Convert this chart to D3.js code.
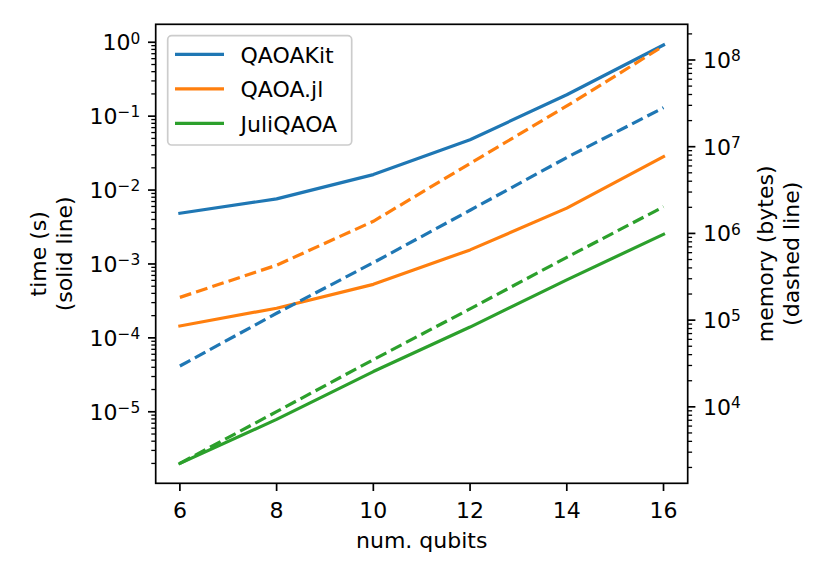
<!DOCTYPE html>
<html>
<head>
<meta charset="utf-8">
<script src="https://cdn.jsdelivr.net/npm/d3@7"></script>
<style>
  body { margin: 0; background: white; }
  text { font-family: "DejaVu Sans", sans-serif; fill: black; }
</style>
</head>
<body>
<div id="chart"></div>
<script>
// num. qubits
const qubits = [6, 8, 10, 12, 14, 16];

const seriesNames = ["QAOAKit", "QAOA.jl", "JuliQAOA"];
const seriesColors = ["#1f77b4", "#ff7f0e", "#2ca02c"];

// time (s), solid lines, left axis
const timeQAOAKit = [4.85e-3, 7.6e-3, 0.0162, 0.048, 0.195, 0.92];
const timeQAOAjl = [1.45e-4, 2.52e-4, 5.3e-4, 1.55e-3, 5.7e-3, 0.0283];
const timeJuliQAOA = [2.0e-6, 7.9e-6, 3.5e-5, 1.4e-4, 6.1e-4, 2.52e-3];

// memory (bytes), dashed lines, right axis
const memQAOAKit = [2.96e4, 1.2e5, 4.6e5, 1.85e6, 7.5e6, 2.82e7];
const memQAOAjl = [1.83e5, 4.3e5, 1.38e6, 6.4e6, 2.95e7, 1.45e8];
const memJuliQAOA = [2.23e3, 8.8e3, 3.5e4, 1.35e5, 5.3e5, 2.03e6];

const xTicks = [6, 8, 10, 12, 14, 16];
const timeTickExps = [-5, -4, -3, -2, -1, 0];
const memTickExps = [4, 5, 6, 7, 8];

function drawChart() {
    const width = 830, height = 581;
    const fontSize = 22;
    const plot = { left: 155.7, right: 687.7, top: 24.3, bottom: 483.3 };
    const majorLen = 7.7, minorLen = 4.4, tickPad = 7.7;

    const svg = d3.select("#chart").append("svg")
        .attr("width", width)
        .attr("height", height);

    const x = d3.scaleLinear().domain([5.5, 16.5]).range([plot.left, plot.right]);
    const yTime = d3.scaleLog().domain([1.077e-6, 1.75]).range([plot.bottom, plot.top]);
    const yMem = d3.scaleLog().domain([1313, 2.58e8]).range([plot.bottom, plot.top]);

    const timeData = [timeQAOAKit, timeQAOAjl, timeJuliQAOA];
    const memData = [memQAOAKit, memQAOAjl, memJuliQAOA];

    const clip = svg.append("clipPath").attr("id", "plot-clip")
        .append("rect")
        .attr("x", plot.left).attr("y", plot.top)
        .attr("width", plot.right - plot.left)
        .attr("height", plot.bottom - plot.top);

    const lineTime = d3.line().x((d, i) => x(qubits[i])).y(d => yTime(d));
    const lineMem = d3.line().x((d, i) => x(qubits[i])).y(d => yMem(d));

    const lines = svg.append("g").attr("clip-path", "url(#plot-clip)");

    // solid time lines first, then dashed memory lines per series (matplotlib order)
    timeData.forEach((vals, i) => {
        lines.append("path")
            .attr("d", lineTime(vals))
            .attr("fill", "none")
            .attr("stroke", seriesColors[i])
            .attr("stroke-width", 3.2)
            .attr("stroke-linejoin", "round")
            .attr("stroke-linecap", "square");
    });
    memData.forEach((vals, i) => {
        lines.append("path")
            .attr("d", lineMem(vals))
            .attr("fill", "none")
            .attr("stroke", seriesColors[i])
            .attr("stroke-width", 3.2)
            .attr("stroke-dasharray", "11.9,5.2")
            .attr("stroke-linecap", "butt");
    });

    // frame
    svg.append("rect")
        .attr("x", plot.left).attr("y", plot.top)
        .attr("width", plot.right - plot.left)
        .attr("height", plot.bottom - plot.top)
        .attr("fill", "none")
        .attr("stroke", "black")
        .attr("stroke-width", 1.7);

    // x ticks
    const xg = svg.append("g");
    xTicks.forEach(t => {
        xg.append("line")
            .attr("x1", x(t)).attr("x2", x(t))
            .attr("y1", plot.bottom).attr("y2", plot.bottom + majorLen)
            .attr("stroke", "black").attr("stroke-width", 1.7);
        xg.append("text")
            .attr("x", x(t)).attr("y", plot.bottom + 34.5)
            .attr("text-anchor", "middle")
            .style("font-size", fontSize + "px")
            .text(t);
    });

    // log axis helper
    function logAxis(scale, exps, side) {
        const g = svg.append("g");
        const x0 = side === "left" ? plot.left : plot.right;
        const dir = side === "left" ? -1 : 1;
        const [lo, hi] = scale.domain();
        const e0 = Math.floor(Math.log10(lo)), e1 = Math.ceil(Math.log10(hi));
        for (let e = e0; e <= e1; e++) {
            for (let m = 2; m <= 9; m++) {
                const v = m * Math.pow(10, e);
                if (v < lo || v > hi) continue;
                g.append("line")
                    .attr("x1", x0).attr("x2", x0 + dir * minorLen)
                    .attr("y1", scale(v)).attr("y2", scale(v))
                    .attr("stroke", "black").attr("stroke-width", 1.3);
            }
        }
        exps.forEach(e => {
            const y = scale(Math.pow(10, e));
            g.append("line")
                .attr("x1", x0).attr("x2", x0 + dir * majorLen)
                .attr("y1", y).attr("y2", y)
                .attr("stroke", "black").attr("stroke-width", 1.7);
            const label = g.append("text")
                .attr("x", x0 + dir * (majorLen + tickPad))
                .attr("y", y + 7.8)
                .attr("text-anchor", side === "left" ? "end" : "start")
                .style("font-size", fontSize + "px");
            label.append("tspan").text("10");
            label.append("tspan")
                .attr("dy", -6.5)
                .style("font-size", (fontSize * 0.7) + "px")
                .text(String(e).replace("-", "\u2212"));
        });
    }
    logAxis(yTime, timeTickExps, "left");
    logAxis(yMem, memTickExps, "right");

    // axis labels
    svg.append("text")
        .attr("x", (plot.left + plot.right) / 2).attr("y", 548)
        .attr("text-anchor", "middle")
        .style("font-size", fontSize + "px")
        .text("num. qubits");

    const midY = (plot.top + plot.bottom) / 2;
    [["time (s)", 45.5], ["(solid line)", 71.5]].forEach(([txt, bx]) => {
        svg.append("text")
            .attr("transform", `translate(${bx},${midY}) rotate(-90)`)
            .attr("text-anchor", "middle")
            .style("font-size", fontSize + "px")
            .text(txt);
    });
    [["memory (bytes)", 772.5], ["(dashed line)", 799]].forEach(([txt, bx]) => {
        svg.append("text")
            .attr("transform", `translate(${bx},${midY}) rotate(-90)`)
            .attr("text-anchor", "middle")
            .style("font-size", fontSize + "px")
            .text(txt);
    });

    // legend
    const legend = svg.append("g");
    legend.append("rect")
        .attr("x", 167.7).attr("y", 35.7)
        .attr("width", 184).attr("height", 109.3)
        .attr("rx", 4).attr("ry", 4)
        .attr("fill", "white").attr("fill-opacity", 0.8)
        .attr("stroke", "#cccccc").attr("stroke-width", 1.7);

    seriesNames.forEach((name, i) => {
        const cy = 54.3 + i * 34.5;
        legend.append("line")
            .attr("x1", 175).attr("x2", 224)
            .attr("y1", cy).attr("y2", cy)
            .attr("stroke", seriesColors[i])
            .attr("stroke-width", 3.2);
        legend.append("text")
            .attr("x", 240.5).attr("y", cy + 8.5)
            .style("font-size", fontSize + "px")
            .text(name);
    });
}

document.addEventListener("DOMContentLoaded", drawChart);
</script>
</body>
</html>
